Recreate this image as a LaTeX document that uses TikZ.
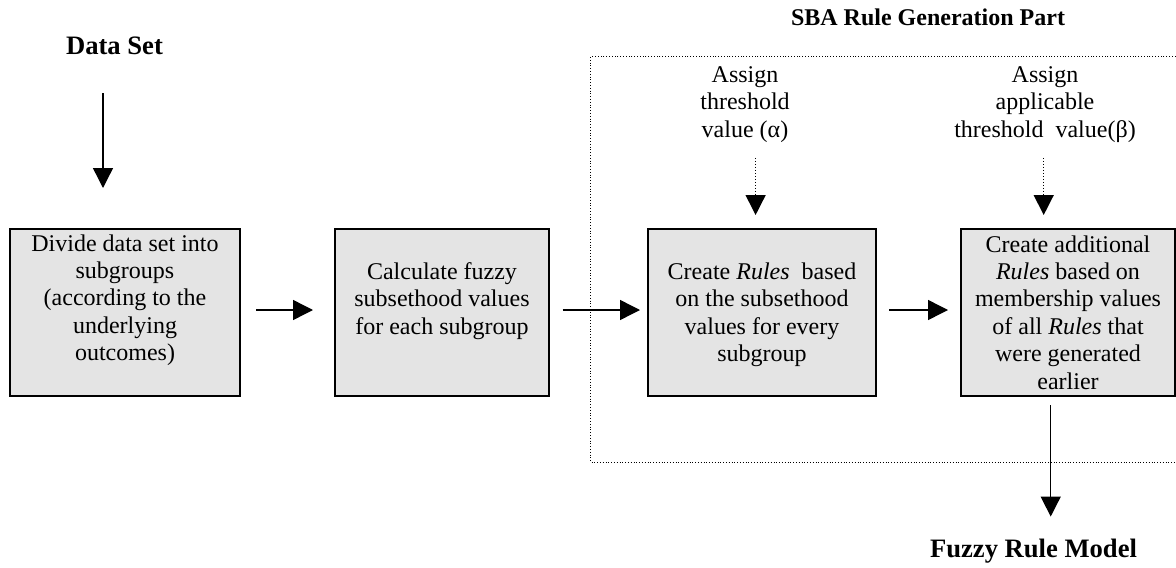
\documentclass[tikz,border=0pt]{standalone}
\usepackage{fontspec}
\setmainfont{Liberation Serif}
\usetikzlibrary{arrows.meta,calc}
\definecolor{boxfill}{RGB}{228,228,228}
% box text: fixed-size parbox, first baseline set by an invisible strut
\newcommand{\boxlines}[4]{\parbox[c][#2][t]{#1}{\centering\rule{0pt}{#3}#4\par}}
% free text: baseline of the node is the baseline of its first line
\newcommand{\stacklines}[2]{\parbox[t]{#1}{\centering #2\par}}
\begin{document}
\begin{tikzpicture}[x=0.5pt, y=-0.5pt,
  stepbox/.style={draw, line width=1pt, fill=boxfill, inner sep=0pt, outer sep=0pt,
    font=\fontsize{12}{13.7}\selectfont},
  plain/.style={inner sep=0pt, outer sep=0pt, font=\fontsize{12}{13.7}\selectfont},
  heading/.style={inner sep=0pt, outer sep=0pt, font=\bfseries\fontsize{13.3}{16}\selectfont},
  subheading/.style={inner sep=0pt, outer sep=0pt, font=\bfseries\fontsize{12}{14}\selectfont},
  flow/.style={-{Triangle[length=10pt,width=10pt]}, line width=0.7pt},
  dotflow/.style={flow, dash pattern=on 0.6pt off 0.9pt},
  frame/.style={line width=0.5pt, dash pattern=on 0.5pt off 0.9pt}]
\useasboundingbox (0,0) rectangle (1176,567);

% dotted frame of the rule generation part
\draw[frame] (590.5,57) rectangle (1185,462);

% headings
\node[heading, anchor=base] (dsl) at (114.5,55) {Data Set};
\node[subheading, anchor=base] (sba) at (928,26) {SBA Rule Generation Part};
\node[heading, anchor=base] (frm) at (1033.5,557) {Fuzzy Rule Model};

% process boxes
\node[stepbox] (b1) at (125,312.5)
  {\boxlines{115pt}{83.5pt}{11pt}{Divide data set into\\subgroups\\(according to the\\underlying\\outcomes)}};
\node[stepbox] (b2) at (442,312.5)
  {\boxlines{107pt}{83.5pt}{25.25pt}{Calculate fuzzy\\subsethood values\\for each subgroup}};
\node[stepbox] (b3) at (762,312.5)
  {\boxlines{114pt}{83.5pt}{25.25pt}{Create \textit{Rules}\ \ based\\on the subsethood\\values for every\\subgroup}};
\node[stepbox] (b4) at (1068,312.5)
  {\boxlines{107pt}{83.5pt}{11.5pt}{Create additional\\\textit{Rules} based on\\membership values\\of all \textit{Rules} that\\were generated\\earlier}};

% threshold inputs
\node[plain, anchor=base] (ta) at (745,82.5) {\stacklines{60pt}{Assign\\threshold\\value (α)}};
\node[plain, anchor=base] (tb) at (1045,82.5) {\stacklines{100pt}{Assign\\applicable\\threshold\ \ value(β)}};

% arrow columns
\coordinate (dscol) at (103,0);
\coordinate (acol) at (755.6,0);
\coordinate (bcol) at (1043.7,0);
\coordinate (fcol) at (1050.7,0);

% connectors
\draw[flow, shorten <=19pt, shorten >=20.5pt] (dsl.south -| dscol) -- (b1.north -| dscol);
\draw[flow, shorten <=8pt, shorten >=11pt] ([yshift=1.25pt]b1.east) -- ([yshift=1.25pt]b2.west);
\draw[flow, shorten <=6.85pt, shorten >=4pt] ([yshift=1.25pt]b2.east) -- ([yshift=1.25pt]b3.west);
\draw[flow, shorten <=6.5pt, shorten >=6.5pt] ([yshift=1.25pt]b3.east) -- ([yshift=1.25pt]b4.west);
\draw[dotflow, shorten <=7.75pt, shorten >=7pt] (ta.south -| acol) -- (b3.north -| acol);
\draw[dotflow, shorten <=7.75pt, shorten >=7pt] (tb.south -| bcol) -- (b4.north -| bcol);
\draw[flow, shorten <=4.5pt, shorten >=11pt] (b4.south -| fcol) -- (frm.north -| fcol);
\end{tikzpicture}
\end{document}
